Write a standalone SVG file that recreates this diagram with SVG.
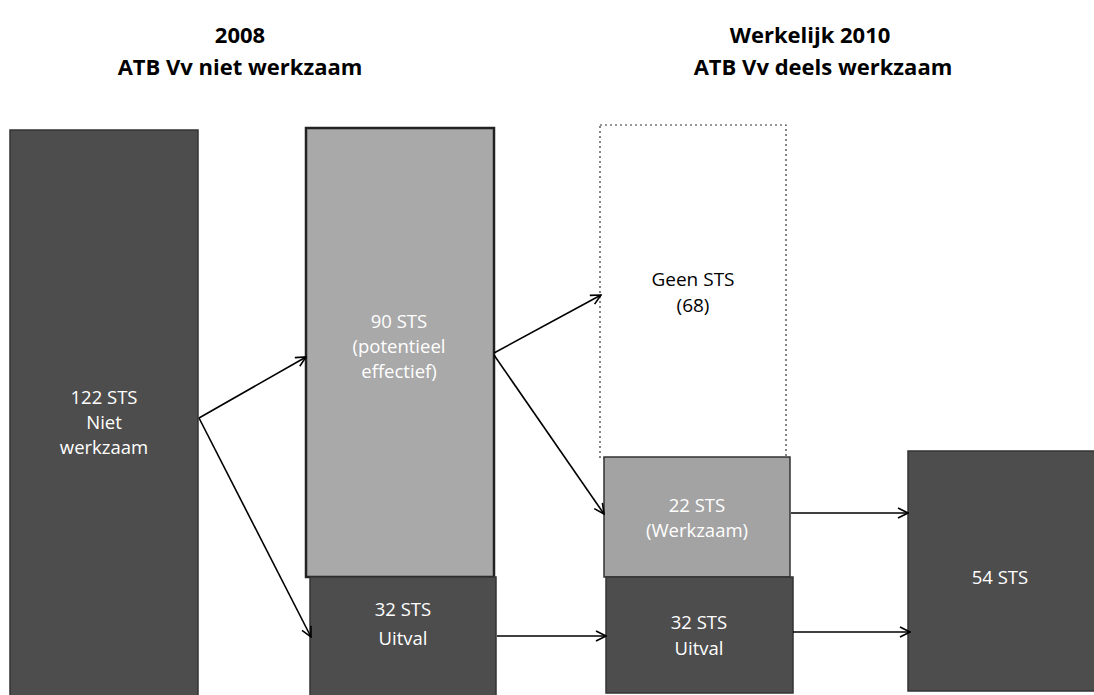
<svg xmlns="http://www.w3.org/2000/svg" width="1094" height="695" viewBox="0 0 1094 695">
<defs>
<style>
.h{font-family:"Open Sans","Liberation Sans",sans-serif;font-weight:bold;font-size:22px;fill:#000;text-anchor:middle}
.t{font-family:"Open Sans","Liberation Sans",sans-serif;font-size:18.5px;fill:#fff;text-anchor:middle}
.tb{font-family:"Open Sans","Liberation Sans",sans-serif;font-size:19px;fill:#000;text-anchor:middle}
.dark{fill:#4d4d4d;stroke:#333;stroke-width:1.5}
.light{fill:#a9a9a9;stroke:#222;stroke-width:2.5}
.conn line{stroke:#000;stroke-width:1.6;fill:none;marker-end:url(#ah)}
</style>
<marker id="ah" viewBox="0 0 12 12" refX="11" refY="6" markerWidth="12" markerHeight="12" markerUnits="userSpaceOnUse" orient="auto">
<path d="M1,1 L11,6 L1,11" fill="none" stroke="#000" stroke-width="1.6"/>
</marker>
</defs>
<rect width="1094" height="695" fill="#fff"/>
<g id="header-2008">
<text class="h" x="240" y="43">2008</text>
<text class="h" x="240" y="75">ATB Vv niet werkzaam</text>
</g>
<g id="header-2010">
<text class="h" x="810" y="43">Werkelijk 2010</text>
<text class="h" x="823" y="75">ATB Vv deels werkzaam</text>
</g>
<g id="n122">
<rect class="dark" x="10" y="130" width="188" height="570"/>
<text class="t" x="104" y="404">122 STS</text>
<text class="t" x="104" y="429">Niet</text>
<text class="t" x="104" y="454">werkzaam</text>
</g>
<g id="n90">
<rect class="light" x="306" y="128" width="188" height="449"/>
<text class="t" x="399" y="328">90 STS</text>
<text class="t" x="399" y="353">(potentieel</text>
<text class="t" x="399" y="378">effectief)</text>
</g>
<g id="n32a">
<rect class="dark" x="310" y="577" width="186" height="122"/>
<text class="t" x="403" y="616">32 STS</text>
<text class="t" x="403" y="645">Uitval</text>
</g>
<g id="n68">
<rect x="600" y="125" width="186" height="333" fill="#fff" stroke="#333" stroke-width="1.2" stroke-dasharray="2,3"/>
<text class="tb" x="693" y="286">Geen STS</text>
<text class="tb" x="693" y="312">(68)</text>
</g>
<g id="n22">
<rect class="dark" x="604" y="457" width="186" height="120" style="fill:#a3a3a3"/>
<text class="t" x="697" y="512">22 STS</text>
<text class="t" x="697" y="537">(Werkzaam)</text>
</g>
<g id="n32b">
<rect class="dark" x="606" y="577" width="187" height="116"/>
<text class="t" x="699" y="629">32 STS</text>
<text class="t" x="699" y="655">Uitval</text>
</g>
<g id="n54">
<rect class="dark" x="908" y="451" width="190" height="240"/>
<text class="t" x="1000" y="584">54 STS</text>
</g>
<g class="conn" id="connectors">
<line x1="199" y1="418" x2="306" y2="357"/>
<line x1="199" y1="418" x2="311" y2="637"/>
<line x1="494" y1="353" x2="601" y2="295"/>
<line x1="494" y1="355" x2="604" y2="514"/>
<line x1="497" y1="636" x2="606" y2="636"/>
<line x1="791" y1="513" x2="908" y2="513"/>
<line x1="793" y1="632" x2="910" y2="632"/>
</g>
</svg>
